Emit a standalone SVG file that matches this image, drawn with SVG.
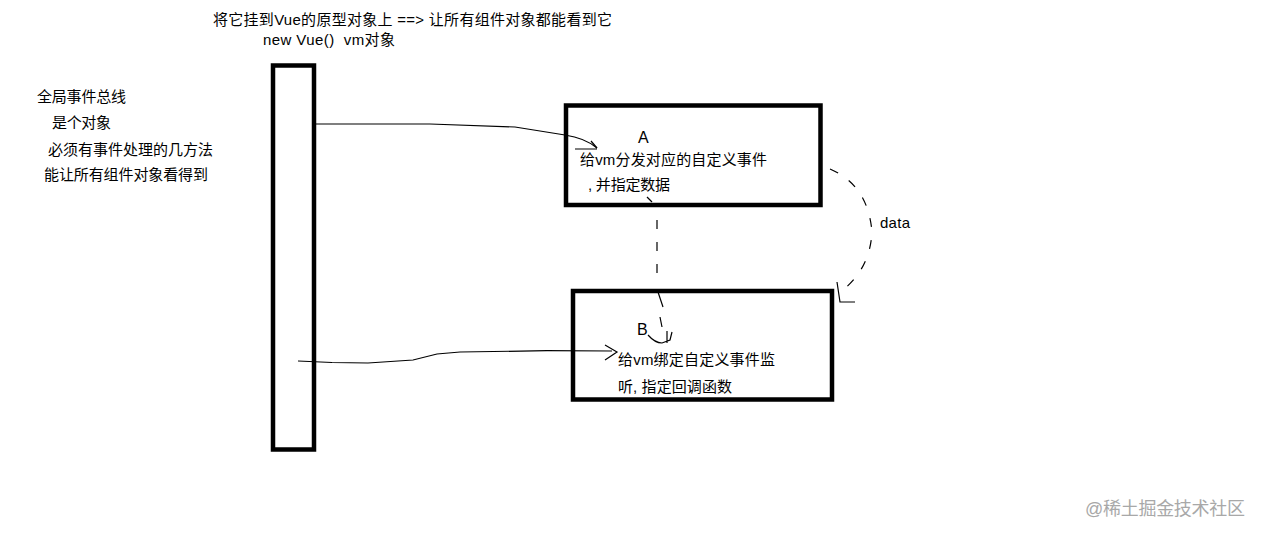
<svg xmlns="http://www.w3.org/2000/svg" width="1262" height="538" viewBox="0 0 1262 538">
<style>
text{font-family:'Liberation Sans','Noto Sans CJK SC',sans-serif;font-size:15px;fill:#000;white-space:pre}
.lbl{font-size:16px}
.box{fill:none;stroke:#000;stroke-width:4.5}
.line{fill:none;stroke:#000;stroke-width:1.2}
.dash{fill:none;stroke:#000;stroke-width:1.2;stroke-dasharray:9 13}
.wm{font-size:18px;fill:#a8a8a8}
</style>
<rect width="1262" height="538" fill="#fff"/>
<g id="title">
<text x="213" y="25" textLength="399" lengthAdjust="spacing">将它挂到Vue的原型对象上 ==&gt; 让所有组件对象都能看到它</text>
<text x="263" y="45" textLength="132" lengthAdjust="spacing" xml:space="preserve">new Vue()  vm对象</text>
</g>
<g id="note">
<text x="37" y="102" textLength="89" lengthAdjust="spacing">全局事件总线</text>
<text x="52" y="128" textLength="59" lengthAdjust="spacing">是个对象</text>
<text x="48" y="155" textLength="165" lengthAdjust="spacing">必须有事件处理的几方法</text>
<text x="44" y="180" textLength="164" lengthAdjust="spacing">能让所有组件对象看得到</text>
</g>
<g id="bus">
<rect class="box" x="273" y="65.5" width="41" height="384"/>
</g>
<g id="boxA">
<rect class="box" x="566" y="105.5" width="254.5" height="99.5"/>
<text class="lbl" x="638" y="143">A</text>
<text x="580" y="165" textLength="187" lengthAdjust="spacing">给vm分发对应的自定义事件</text>
<text x="588" y="190" textLength="82" lengthAdjust="spacing">, 并指定数据</text>
</g>
<g id="boxB">
<rect class="box" x="573" y="291" width="259" height="108.5"/>
<text class="lbl" x="637" y="335">B</text>
<text x="618" y="365" textLength="157" lengthAdjust="spacing">给vm绑定自定义事件监</text>
<text x="618" y="392" textLength="114" lengthAdjust="spacing">听, 指定回调函数</text>
</g>
<g id="connectors">
<path class="line" d="M316,124 L430,124 L515,127 L565,135 Q585,138 597,148"/>
<path class="line" d="M591,141 L597,148 M575,149 L597,149"/>
<path class="line" d="M298,361 L332,362.5 L368,363 L413,360 L437,354 L460,352 L547,350.7 L612,351"/>
<path class="line" d="M605,345 L617,352 L605,360"/>
<path class="line" d="M647,197 L652,202"/>
<path class="dash" d="M657,220 L657,278"/>
<path class="line" d="M658,292 L663,307 M660,317 L662,327"/>
<path class="line" d="M648,335 Q655,343 662,343 L670,340 L672,332 M667,331 L667,343"/>
<path class="dash" d="M830,169 Q868,185 872,232 Q870,268 843,290"/>
<path class="line" d="M837,282 L840,302 L855,302"/>
<text x="880" y="228" textLength="30" lengthAdjust="spacing">data</text>
</g>
<g id="watermark">
<text class="wm" x="1085" y="515" textLength="160" lengthAdjust="spacing">@稀土掘金技术社区</text>
</g>
</svg>
